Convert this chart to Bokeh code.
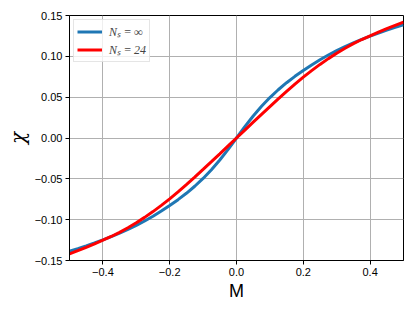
from bokeh.plotting import figure
from bokeh.models import FixedTicker, Legend, LegendItem, Range1d
from bokeh.embed import file_html
from bokeh.resources import INLINE

# Data (M from -0.5 to 0.5, step 0.025)
M = [-0.500, -0.475, -0.450, -0.425, -0.400, -0.375, -0.350, -0.325, -0.300, -0.275,
     -0.250, -0.225, -0.200, -0.175, -0.150, -0.125, -0.100, -0.075, -0.050, -0.025,
     0.000,
     0.025, 0.050, 0.075, 0.100, 0.125, 0.150, 0.175, 0.200, 0.225, 0.250,
     0.275, 0.300, 0.325, 0.350, 0.375, 0.400, 0.425, 0.450, 0.475, 0.500]
chi_inf = [-0.1387, -0.1354, -0.1320, -0.1284, -0.1247, -0.1208, -0.1166, -0.1120, -0.1070, -0.1016,
           -0.0958, -0.0895, -0.0827, -0.0755, -0.0677, -0.0591, -0.0495, -0.0388, -0.0270, -0.0140,
           0.0000,
           0.0140, 0.0270, 0.0388, 0.0495, 0.0591, 0.0677, 0.0755, 0.0827, 0.0895, 0.0958,
           0.1016, 0.1070, 0.1120, 0.1166, 0.1208, 0.1247, 0.1284, 0.1320, 0.1354, 0.1387]
chi_24 = [-0.1420, -0.1380, -0.1338, -0.1295, -0.1250, -0.1206, -0.1155, -0.1099, -0.1038, -0.0972,
          -0.0901, -0.0825, -0.0745, -0.0659, -0.0570, -0.0479, -0.0385, -0.0290, -0.0194, -0.0097,
          0.0000,
          0.0097, 0.0194, 0.0290, 0.0385, 0.0479, 0.0570, 0.0659, 0.0745, 0.0825, 0.0901,
          0.0972, 0.1038, 0.1099, 0.1155, 0.1206, 0.1250, 0.1295, 0.1338, 0.1380, 0.1420]

x_ticks = [-0.4, -0.2, 0.0, 0.2, 0.4]
x_tick_labels = ["\u22120.4", "\u22120.2", "0.0", "0.2", "0.4"]
y_ticks = [-0.15, -0.10, -0.05, 0.0, 0.05, 0.10, 0.15]
y_tick_labels = ["\u22120.15", "\u22120.10", "\u22120.05", "0.00", "0.05", "0.10", "0.15"]
labels = ["N\u209b\u2009=\u2009\u221e", "N\u209b\u2009=\u200924"]

p = figure(width=407, height=303, output_backend="svg", toolbar_location=None,
           x_range=Range1d(-0.5, 0.5), y_range=Range1d(-0.15, 0.15),
           min_border_left=69, min_border_top=15, min_border_right=4, min_border_bottom=40)
p.background_fill_color = "white"
p.border_fill_color = "white"
p.outline_line_color = "black"
p.outline_line_width = 1

r1 = p.line(M, chi_inf, line_color="#1f77b4", line_width=3)
r2 = p.line(M, chi_24, line_color="#ff0000", line_width=3)

p.xaxis.ticker = FixedTicker(ticks=x_ticks)
p.xaxis.major_label_overrides = {t: l for t, l in zip(x_ticks, x_tick_labels)}
p.yaxis.ticker = FixedTicker(ticks=y_ticks)
p.yaxis.major_label_overrides = {t: l for t, l in zip(y_ticks, y_tick_labels)}

for ax in (p.xaxis, p.yaxis):
    ax.axis_line_color = "black"
    ax.major_tick_line_color = "black"
    ax.major_tick_out = 4
    ax.major_tick_in = 0
    ax.minor_tick_line_color = None
    ax.major_label_text_font = "Liberation Sans"
    ax.major_label_text_font_size = "11px"
    ax.major_label_text_color = "black"
    ax.major_label_standoff = 3

p.xaxis.axis_label = "M"
p.xaxis.axis_label_text_font = "Liberation Sans"
p.xaxis.axis_label_text_font_size = "18px"
p.xaxis.axis_label_text_font_style = "normal"
p.xaxis.axis_label_text_color = "black"
p.xaxis.axis_label_standoff = 2
p.xaxis.major_label_standoff = 3
p.yaxis.axis_label = "\u03c7"
p.yaxis.axis_label_text_font = "DejaVu Serif"
p.yaxis.axis_label_text_font_size = "20px"
p.yaxis.axis_label_text_font_style = "italic"
p.yaxis.axis_label_text_color = "black"
p.yaxis.axis_label_standoff = 2

p.grid.grid_line_color = "#b0b0b0"
p.grid.grid_line_width = 1
p.xgrid.ticker = FixedTicker(ticks=x_ticks)
p.ygrid.ticker = FixedTicker(ticks=y_ticks)

legend = Legend(items=[LegendItem(label=labels[0], renderers=[r1]),
                       LegendItem(label=labels[1], renderers=[r2])],
                location="top_left", margin=4, padding=3, spacing=1,
                glyph_width=25, glyph_height=13, label_standoff=7,
                label_text_font="Liberation Serif", label_text_font_style="italic",
                label_text_font_size="12px", label_height=13,
                border_line_color="#cccccc", border_line_width=1,
                background_fill_color="white", background_fill_alpha=0.8)
p.add_layout(legend)

open("out.html", "w").write(file_html(p, INLINE))
